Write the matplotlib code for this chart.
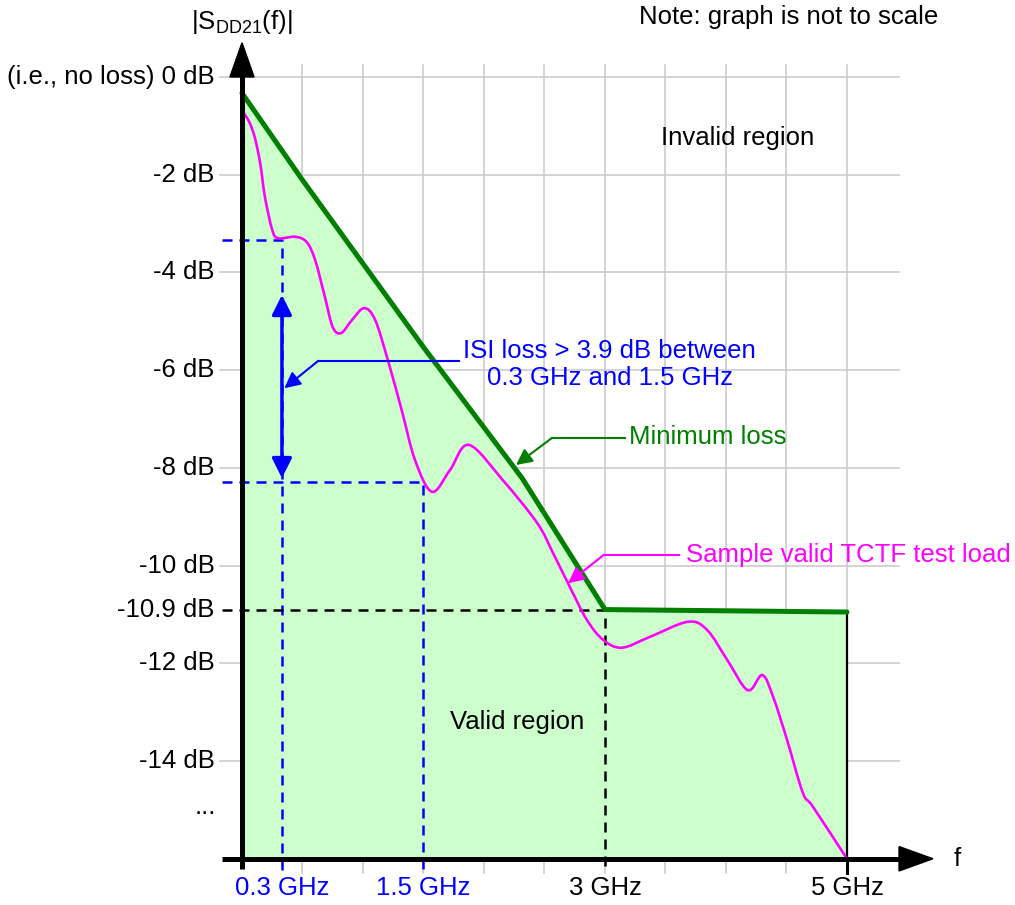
import matplotlib
matplotlib.use("Agg")
import matplotlib.pyplot as plt
import numpy as np
from matplotlib.path import Path
from matplotlib.patches import PathPatch

plt.rcParams['font.family'] = ['Liberation Sans', 'DejaVu Sans']
plt.rcParams['mathtext.default'] = 'regular'

# x is a schematic position (graph is not to scale), 1 unit = 1 grid column
# y is |SDD21| in dB
green_x = [0.0, 1.0, 3.0, 4.63, 6.0, 10.0]
green_db = [-0.33, -2.11, -5.53, -8.21, -10.9, -10.95]

sample_x = [0.03, 0.12, 0.21, 0.30, 0.38, 0.50, 0.60, 0.88, 1.07,
            1.21, 1.37, 1.50, 1.64, 1.82, 2.02, 2.20, 2.41,
            2.64, 2.86, 3.14, 3.44, 3.75, 4.31, 4.88, 5.14,
            5.42, 5.70, 5.97, 6.28, 6.74, 7.37, 7.69, 8.02,
            8.36, 8.60, 8.78, 9.01, 9.27, 9.44, 10.0]
sample_db = [-0.74, -0.92, -1.23, -1.76, -2.46, -3.13, -3.30, -3.27, -3.38,
             -3.75, -4.50, -5.12, -5.24, -4.97, -4.73, -4.97, -5.79,
             -6.82, -7.84, -8.49, -8.04, -7.53, -8.25, -9.13, -9.74,
             -10.44, -11.11, -11.52, -11.68, -11.46, -11.15, -11.32, -11.93,
             -12.55, -12.24, -12.69, -13.57, -14.65, -14.94, -16.0]

ytick_db = [0, -2, -4, -6, -8, -10, -10.9, -12, -14]
ytick_labels = ['(i.e., no loss) 0 dB', '-2 dB', '-4 dB', '-6 dB', '-8 dB', '-10 dB',
                '-10.9 dB', '-12 dB', '-14 dB']
grid_db = [0, -2, -4, -6, -8, -10, -12, -14]
grid_x = [1, 2, 3, 4, 5, 6, 7, 8, 9, 10]
freq_x = [0.66, 3.0, 6.0, 10.0]
freq_labels = ['0.3 GHz', '1.5 GHz', '3 GHz', '5 GHz']
freq_colors = ['#0000ff', '#0000ff', 'black', 'black']
isi_top_db = -3.34    # loss at 0.3 GHz
isi_bot_db = -8.29    # loss at 1.5 GHz
y_floor = -16.0

fig = plt.figure(figsize=(10.15, 9.05), dpi=100)
ax = fig.add_axes([0, 0, 1, 1])
ax.set_xlim(-242 / 60.5, (1015 - 242) / 60.5)
ax.set_ylim(-(905 - 77) / 48.86, 77 / 48.86)
ax.axis('off')

grey = '#c8c8c8'
blue = '#0000ff'
green = '#007f00'
mag = '#ff00ff'
fs = 18.5

# grid
for g in grid_db:
    ax.plot([-0.36, 10.86], [g, g], color=grey, lw=1.1, zorder=1)
for g in grid_x:
    ax.plot([g, g], [-16.3, 0.25], color=grey, lw=1.1, zorder=1)

# valid region
ax.fill_between(green_x, green_db, y_floor, color='#ccffcc', lw=0, zorder=2)
ax.plot([10, 10], [green_db[-1], y_floor], color='black', lw=1.6, zorder=3)

# dashed guides
dash = (4, 2.8)
ax.plot([-0.33, freq_x[0], freq_x[0]], [isi_top_db, isi_top_db, -16.3], color=blue,
        lw=1.8, dashes=dash, zorder=3)
ax.plot([-0.33, freq_x[1], freq_x[1]], [isi_bot_db, isi_bot_db, -16.3], color=blue,
        lw=1.8, dashes=dash, zorder=3)
ax.plot([-0.33, freq_x[2], freq_x[2]], [-10.9, -10.9, -16.3], color='black',
        lw=1.8, dashes=dash, zorder=3)
ax.plot([10, 10], [y_floor, -16.3], color='black', lw=2.2, zorder=3)

# sample curve, drawn as a smooth bezier path through the read points
pts = np.column_stack([sample_x, sample_db])
verts = [pts[0]]
codes = [Path.MOVETO]
n = len(pts)
for i in range(n - 1):
    p0 = pts[i - 1] if i > 0 else pts[i]
    p1 = pts[i]
    p2 = pts[i + 1]
    p3 = pts[i + 2] if i + 2 < n else pts[i + 1]
    verts += [p1 + (p2 - p0) / 6, p2 - (p3 - p1) / 6, p2]
    codes += [Path.CURVE4] * 3
ax.add_patch(PathPatch(Path(verts, codes), fill=False, edgecolor=mag, lw=1.9, zorder=4))

ax.plot(green_x, green_db, color=green, lw=3.6, zorder=5, solid_capstyle='round')

# axes with arrows
ax.plot([0, 0], [-16.2, 0.05], color='black', lw=3.6, zorder=6, solid_capstyle='butt')
ax.plot([-0.33, 10.9], [y_floor, y_floor], color='black', lw=3.6, zorder=6, solid_capstyle='butt')
ax.fill([-0.2, 0.2, 0], [0.0, 0.0, 0.7], color='black', zorder=6)
ax.fill([10.86, 10.86, 11.42], [-15.75, -16.25, -16.0], color='black', zorder=6)

# ISI double arrow
ax.annotate('', xy=(freq_x[0], -4.46), xytext=(freq_x[0], -8.21),
            arrowprops=dict(arrowstyle='<|-|>', color=blue, lw=2.5, mutation_scale=30,
                            shrinkA=0, shrinkB=0), zorder=7)

# leaders
def leader(xe, xc, yl, tip, color):
    ax.plot([xe, xc], [yl, yl], color=color, lw=1.5, zorder=7)
    ax.annotate('', xy=tip, xytext=(xc, yl),
                arrowprops=dict(arrowstyle='-|>', color=color, lw=1.5, mutation_scale=24,
                                shrinkA=0, shrinkB=0), zorder=7)

leader(3.59, 1.26, -5.81, (0.70, -6.37), blue)
leader(6.33, 5.12, -7.39, (4.53, -7.94), green)
leader(7.22, 5.98, -9.78, (5.39, -10.36), mag)

ax.text(6.08, -5.89, 'ISI loss > 3.9 dB between\n0.3 GHz and 1.5 GHz', color=blue,
        fontsize=fs, ha='center', va='center', linespacing=1.15, zorder=8)
ax.text(6.40, -7.37, 'Minimum loss', color=green, fontsize=fs, ha='left', va='center', zorder=8)
ax.text(7.34, -9.78, 'Sample valid TCTF test load', color=mag, fontsize=fs, ha='left',
        va='center', zorder=8)

ax.text(8.2, -1.25, 'Invalid region', fontsize=fs, ha='center', va='center')
ax.text(4.55, -13.2, 'Valid region', fontsize=fs, ha='center', va='center', zorder=8)

# axis labels
for v, lab in zip(ytick_db, ytick_labels):
    ax.text(-0.45, v, lab, fontsize=fs, ha='right', va='center')
ax.text(-0.61, -14.95, '...', fontsize=fs, ha='center', va='center')
for v, lab, c in zip(freq_x, freq_labels, freq_colors):
    ax.text(v, -16.6, lab, fontsize=fs, ha='center', va='center', color=c)
ax.text(11.83, -16.0, 'f', fontsize=fs, ha='center', va='center')
ax.text(0.0, 1.13, '|S$_{DD21}$(f)|', fontsize=fs, ha='center', va='center')
ax.text(9.04, 1.23, 'Note: graph is not to scale', fontsize=fs, ha='center', va='center')

fig.savefig('out.png', dpi=100)
